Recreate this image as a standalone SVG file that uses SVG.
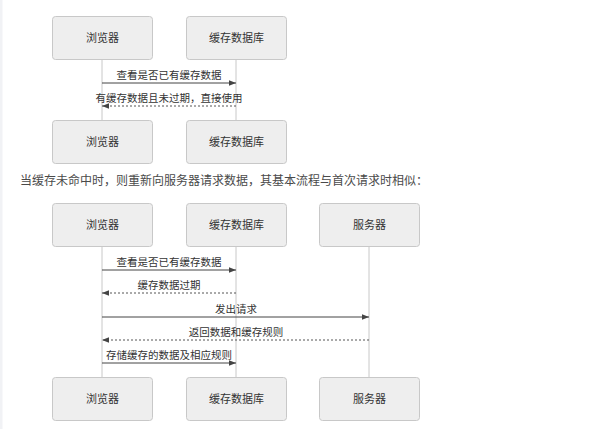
<svg xmlns="http://www.w3.org/2000/svg" width="602" height="429" viewBox="0 0 602 429">
<defs>
<style>
.box{fill:#eeeeee;stroke:#c8c8c8;stroke-width:1}
.t{font-family:"Liberation Sans","Noto Sans CJK SC",sans-serif;font-size:11px;fill:#333;text-anchor:middle;dominant-baseline:central}
.lbl{font-family:"Liberation Sans","Noto Sans CJK SC",sans-serif;font-size:10.5px;fill:#333;text-anchor:middle}
.life{stroke:#c8c8c8;stroke-width:1}
.msg{stroke:#444;stroke-width:1;fill:none}
.ret{stroke:#555;stroke-width:1;stroke-dasharray:2,2;fill:none}
.p{font-family:"Liberation Sans","Noto Sans CJK SC",sans-serif;font-size:12px;fill:#4a4a4a}
</style>
<marker id="ah" viewBox="0 0 10 10" refX="10" refY="5" markerWidth="7" markerHeight="7" markerUnits="userSpaceOnUse" orient="auto">
<path d="M0,1 L10,5 L0,9 z" fill="#444"/>
</marker>
</defs>
<rect x="0" y="0" width="602" height="429" fill="#fff"/>
<rect x="0" y="0" width="2.5" height="429" fill="#f1f2f5"/>

<g id="connectors">
<line class="life" x1="102" y1="60" x2="102" y2="120"/>
<line class="life" x1="236" y1="60" x2="236" y2="120"/>
<line class="life" x1="102" y1="247" x2="102" y2="377"/>
<line class="life" x1="236" y1="247" x2="236" y2="377"/>
<line class="life" x1="369" y1="247" x2="369" y2="377"/>

<line class="msg" x1="102" y1="83" x2="236" y2="83" marker-end="url(#ah)"/>
<text class="lbl" x="169" y="79">查看是否已有缓存数据</text>
<line class="ret" x1="236" y1="106" x2="102" y2="106" marker-end="url(#ah)"/>
<text class="lbl" x="169" y="102">有缓存数据且未过期，直接使用</text>

<line class="msg" x1="102" y1="270" x2="236" y2="270" marker-end="url(#ah)"/>
<text class="lbl" x="169" y="266">查看是否已有缓存数据</text>
<line class="ret" x1="236" y1="293" x2="102" y2="293" marker-end="url(#ah)"/>
<text class="lbl" x="169" y="289">缓存数据过期</text>
<line class="msg" x1="102" y1="317" x2="369" y2="317" marker-end="url(#ah)"/>
<text class="lbl" x="236" y="313">发出请求</text>
<line class="ret" x1="369" y1="340" x2="102" y2="340" marker-end="url(#ah)"/>
<text class="lbl" x="236" y="336">返回数据和缓存规则</text>
<line class="msg" x1="102" y1="363" x2="236" y2="363" marker-end="url(#ah)"/>
<text class="lbl" x="169" y="359">存储缓存的数据及相应规则</text>
</g>

<g id="browser1"><rect class="box" x="52.5" y="16.5" width="100" height="43" rx="3"/><text class="t" x="102.5" y="38">浏览器</text></g>
<g id="cache1"><rect class="box" x="186.5" y="16.5" width="100" height="43" rx="3"/><text class="t" x="236.5" y="38">缓存数据库</text></g>
<g id="browser2"><rect class="box" x="52.5" y="120.5" width="100" height="43" rx="3"/><text class="t" x="102.5" y="142">浏览器</text></g>
<g id="cache2"><rect class="box" x="186.5" y="120.5" width="100" height="43" rx="3"/><text class="t" x="236.5" y="142">缓存数据库</text></g>

<text class="p" x="20" y="184.5">当缓存未命中时，则重新向服务器请求数据，其基本流程与首次请求时相似：</text>

<g id="browser3"><rect class="box" x="52.5" y="203.5" width="100" height="43" rx="3"/><text class="t" x="102.5" y="225">浏览器</text></g>
<g id="cache3"><rect class="box" x="186.5" y="203.5" width="100" height="43" rx="3"/><text class="t" x="236.5" y="225">缓存数据库</text></g>
<g id="server3"><rect class="box" x="319.5" y="203.5" width="100" height="43" rx="3"/><text class="t" x="369.5" y="225">服务器</text></g>
<g id="browser4"><rect class="box" x="52.5" y="377.5" width="100" height="43" rx="3"/><text class="t" x="102.5" y="399">浏览器</text></g>
<g id="cache4"><rect class="box" x="186.5" y="377.5" width="100" height="43" rx="3"/><text class="t" x="236.5" y="399">缓存数据库</text></g>
<g id="server4"><rect class="box" x="319.5" y="377.5" width="100" height="43" rx="3"/><text class="t" x="369.5" y="399">服务器</text></g>
</svg>
